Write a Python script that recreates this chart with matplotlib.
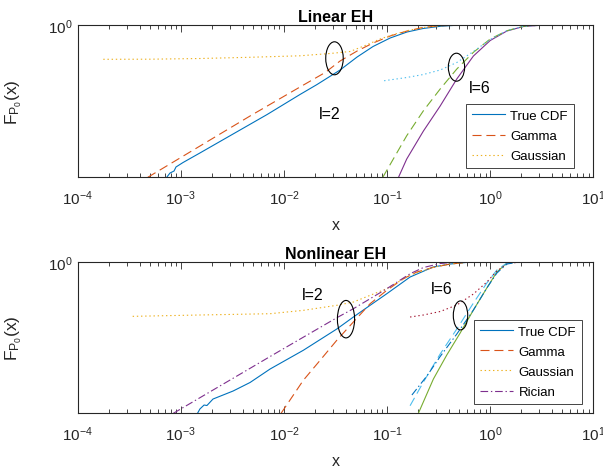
import numpy as np
import matplotlib
matplotlib.use('Agg')
import matplotlib.pyplot as plt
from matplotlib.patches import Ellipse
from matplotlib.ticker import LogLocator, NullLocator

plt.rcParams['font.family'] = ['Liberation Sans', 'DejaVu Sans']
plt.rcParams['mathtext.fontset'] = 'custom'
plt.rcParams['mathtext.rm'] = 'Liberation Sans'
plt.rcParams['mathtext.it'] = 'Liberation Sans:italic'
plt.rcParams['mathtext.bf'] = 'Liberation Sans:bold'
plt.rcParams['mathtext.default'] = 'regular'
plt.rcParams['lines.scale_dashes'] = False

# MATLAB default colour order
c_blue = '#0072BD'
c_orange = '#D95319'
c_yellow = '#EDB120'
c_purple = '#7E2F8E'
c_green = '#77AC30'
c_cyan = '#4DBEEE'
c_red = '#A2142F'

x_ticks = [1e-4, 1e-3, 1e-2, 1e-1, 1e0, 1e1]
x_tick_labels = [r'$10^{-4}$', r'$10^{-3}$', r'$10^{-2}$', r'$10^{-1}$', r'$10^{0}$', r'$10^{1}$']
legend_labels = ['True CDF', 'Gamma', 'Gaussian', 'Rician']

# ---- Linear EH, l=2 ----
lin2_true_x = [7.29e-4, 7.85e-4, 8.59e-4, 8.97e-4, 1.05e-3, 1.53e-3, 3.21e-3, 6.86e-3, 1.43e-2, 2.09e-2,
               3.50e-2, 5.12e-2, 7.31e-2, 0.107, 0.156, 0.223, 0.327, 0.478, 1.0, 10.0]
lin2_true_y = [1.0e-5, 1.38e-5, 1.61e-5, 2.18e-5, 3.06e-5, 6.28e-5, 2.64e-4, 1.15e-3, 5.23e-3, 1.11e-2,
               3.33e-2, 8.90e-2, 0.197, 0.374, 0.589, 0.767, 0.906, 0.985, 1.0, 1.0]
lin2_gamma_x = [4.78e-4, 4.69e-3, 1.43e-2, 2.51e-2, 3.50e-2, 5.12e-2, 7.31e-2, 0.107, 0.156, 0.223, 0.327, 0.511, 10.0]
lin2_gamma_y = [1.0e-5, 1.03e-3, 9.22e-3, 2.76e-2, 6.58e-2, 0.140, 0.256, 0.435, 0.635, 0.828, 0.948, 0.995, 1.0]
lin2_gauss_x = [1.77e-4, 5.02e-4, 1.53e-3, 4.69e-3, 1.43e-2, 2.80e-2, 4.38e-2, 6.12e-2, 8.55e-2, 0.120,
                0.167, 0.234, 0.327, 0.511, 10.0]
lin2_gauss_y = [7.48e-2, 7.54e-2, 7.94e-2, 8.71e-2, 9.75e-2, 0.116, 0.135, 0.212, 0.347, 0.507,
                0.685, 0.840, 0.942, 1.0, 1.0]

# ---- Linear EH, l=6 ----
lin6_true_x = [0.129, 0.155, 0.225, 0.327, 0.474, 0.687, 1.0, 1.45, 2.10, 3.05, 4.76, 10.0]
lin6_true_y = [1.0e-5, 3.99e-5, 3.31e-4, 2.19e-3, 1.69e-2, 9.60e-2, 0.310, 0.635, 0.893, 0.977, 1.0, 1.0]
lin6_gamma_x = [9.08e-2, 0.155, 0.225, 0.327, 0.474, 0.687, 1.0, 1.45, 2.10, 3.05, 10.0]
lin6_gamma_y = [1.0e-5, 2.32e-4, 1.53e-3, 7.92e-3, 3.59e-2, 0.127, 0.347, 0.650, 0.906, 0.99, 1.0]
lin6_gauss_x = [9.35e-2, 0.155, 0.225, 0.327, 0.474, 0.687, 1.0, 1.45, 2.10, 3.05, 4.76, 10.0]
lin6_gauss_y = [1.48e-2, 1.89e-2, 2.37e-2, 3.33e-2, 5.87e-2, 0.135, 0.334, 0.650, 0.906, 0.98, 1.0, 1.0]

# ---- Nonlinear EH, l=2 ----
non2_true_x = [1.45e-3, 1.53e-3, 1.68e-3, 1.79e-3, 2.05e-3, 3.21e-3, 4.69e-3, 7.33e-3, 1.54e-2, 3.25e-2,
               4.71e-2, 6.84e-2, 9.93e-2, 0.167, 0.279, 0.408, 0.597, 1.0]
non2_true_y = [1.0e-5, 1.39e-5, 1.88e-5, 1.81e-5, 2.96e-5, 5.44e-5, 1.04e-4, 2.89e-4, 1.20e-3, 6.03e-3,
               1.50e-2, 3.65e-2, 8.81e-2, 0.313, 0.668, 0.840, 0.955, 1.0]
non2_gamma_x = [9.37e-3, 1.54e-2, 2.24e-2, 3.25e-2, 4.71e-2, 6.84e-2, 9.93e-2, 0.144, 0.194, 0.281, 0.408, 0.593, 1.0]
non2_gamma_y = [1.0e-5, 1.23e-4, 5.60e-4, 2.56e-3, 1.03e-2, 4.12e-2, 0.114, 0.275, 0.457, 0.654, 0.840, 0.955, 1.0]
non2_gauss_x = [3.41e-4, 1.53e-3, 7.33e-3, 1.54e-2, 3.25e-2, 4.71e-2, 6.84e-2, 9.93e-2, 0.167, 0.281, 0.408, 0.593, 1.0]
non2_gauss_y = [1.58e-2, 1.75e-2, 1.93e-2, 2.49e-2, 3.65e-2, 4.69e-2, 7.80e-2, 0.129, 0.364, 0.654, 0.840, 0.955, 1.0]
non2_rician_x = [8.45e-4, 1.06e-3, 2.23e-3, 4.69e-3, 7.33e-3, 1.54e-2, 3.25e-2, 4.71e-2, 6.84e-2, 9.93e-2,
                 0.167, 0.225, 0.327, 0.474, 0.798]
non2_rician_y = [1.0e-5, 1.57e-5, 6.93e-5, 3.05e-4, 7.47e-4, 3.24e-3, 1.42e-2, 2.82e-2, 6.02e-2, 0.129,
                 0.402, 0.644, 0.873, 0.977, 1.0]

# ---- Nonlinear EH, l=6 ----
non6_true_x = [0.201, 0.281, 0.379, 0.511, 0.687, 0.927, 1.16, 1.45, 1.95]
non6_true_y = [1.0e-5, 1.35e-4, 8.37e-4, 4.45e-3, 2.55e-2, 0.136, 0.457, 0.906, 1.0]
non6_gamma_x = [0.167, 0.225, 0.327, 0.474, 0.687, 0.927, 1.16, 1.45, 1.95]
non6_gamma_y = [1.78e-5, 1.08e-4, 9.03e-4, 6.03e-3, 4.34e-2, 0.198, 0.532, 0.906, 1.0]
non6_gauss_x = [0.167, 0.225, 0.327, 0.474, 0.687, 0.927, 1.16, 1.45, 1.95]
non6_gauss_y = [1.50e-2, 1.75e-2, 2.28e-2, 3.73e-2, 8.61e-2, 0.214, 0.493, 0.840, 1.0]
non6_rician_x = [0.174, 0.243, 0.327, 0.474, 0.687, 0.927, 1.16, 1.45, 1.95]
non6_rician_y = [4.02e-5, 1.70e-4, 7.47e-4, 4.12e-3, 2.55e-2, 0.136, 0.424, 0.840, 1.0]

dash = (6.5, 3.5)
dot = (1.0, 2.0)
dashdot = (5.5, 2.0, 1.0, 2.0)
lw = 0.8
axis_col = '#262626'


def style_axes(ax, title):
    ax.set_xscale('log')
    ax.set_yscale('log')
    ax.set_xlim(1e-4, 10)
    ax.set_ylim(1e-5, 1)
    ax.set_xticks(x_ticks)
    ax.set_xticklabels(x_tick_labels)
    ax.xaxis.set_minor_locator(LogLocator(base=10, subs=np.arange(2, 10)))
    ax.set_yticks([1])
    ax.set_yticklabels([r'$10^{0}$'])
    ax.yaxis.set_minor_locator(NullLocator())
    ax.tick_params(which='both', direction='in', top=True, right=True, colors=axis_col, labelsize=11)
    ax.tick_params(axis='x', which='major', length=5, width=0.6, pad=8)
    ax.tick_params(axis='y', which='major', length=5, width=0.6, pad=4)
    ax.tick_params(which='minor', length=3, width=0.6)
    for s in ax.spines.values():
        s.set_color(axis_col)
        s.set_linewidth(0.8)
    ax.set_title(title, fontweight='bold', fontsize=11.5, pad=3)
    ax.set_xlabel('x', fontsize=11.5, color=axis_col)
    ax.set_ylabel(r'$F_{P_0}(x)$', fontsize=12.5, color=axis_col)
    ax.xaxis.set_label_coords(0.5, -0.26)
    ax.yaxis.set_label_coords(-0.105, 0.5)


fig = plt.figure(figsize=(6.03, 4.77), dpi=100)
ax1 = fig.add_axes([0.1289, 0.6262, 0.8551, 0.3193])
ax2 = fig.add_axes([0.1289, 0.1314, 0.8551, 0.3178])

legend_style = dict(loc='lower left', fontsize=9.5, handlelength=2.5, handletextpad=0.4, borderpad=0.45,
                    labelspacing=0.6, borderaxespad=0, fancybox=False, framealpha=1, edgecolor=axis_col)

# Linear EH
h1, = ax1.plot(lin2_true_x, lin2_true_y, color=c_blue, lw=lw)
h2, = ax1.plot(lin2_gamma_x, lin2_gamma_y, color=c_orange, lw=lw, dashes=dash)
h3, = ax1.plot(lin2_gauss_x, lin2_gauss_y, color=c_yellow, lw=lw, dashes=dot)
ax1.plot(lin6_true_x, lin6_true_y, color=c_purple, lw=lw)
ax1.plot(lin6_gamma_x, lin6_gamma_y, color=c_green, lw=lw, dashes=dash)
ax1.plot(lin6_gauss_x, lin6_gauss_y, color=c_cyan, lw=lw, dashes=dot)
style_axes(ax1, 'Linear EH')
leg1 = ax1.legend([h1, h2, h3], legend_labels[:3], bbox_to_anchor=(0.753, 0.059), **legend_style)
leg1.get_frame().set_linewidth(0.6)

# Nonlinear EH
g1, = ax2.plot(non2_true_x, non2_true_y, color=c_blue, lw=lw)
g2, = ax2.plot(non2_gamma_x, non2_gamma_y, color=c_orange, lw=lw, dashes=dash)
g3, = ax2.plot(non2_gauss_x, non2_gauss_y, color=c_yellow, lw=lw, dashes=dot)
g4, = ax2.plot(non2_rician_x, non2_rician_y, color=c_purple, lw=lw, dashes=dashdot)
ax2.plot(non6_true_x, non6_true_y, color=c_green, lw=lw)
ax2.plot(non6_gamma_x, non6_gamma_y, color=c_cyan, lw=lw, dashes=dash)
ax2.plot(non6_gauss_x, non6_gauss_y, color=c_red, lw=lw, dashes=dot)
ax2.plot(non6_rician_x, non6_rician_y, color=c_blue, lw=lw, dashes=dashdot)
style_axes(ax2, 'Nonlinear EH')
leg2 = ax2.legend([g1, g2, g3, g4], legend_labels, bbox_to_anchor=(0.769, 0.061), **legend_style)
leg2.get_frame().set_linewidth(0.6)

# ellipse markers around the curve groups
for cx, cy, w, h in [(0.5547, 0.8757, 0.0290, 0.0692), (0.7570, 0.8570, 0.0270, 0.0587),
                     (0.5738, 0.3288, 0.0285, 0.0785), (0.7637, 0.3367, 0.0239, 0.0608)]:
    fig.add_artist(Ellipse((cx, cy), w, h, transform=fig.transFigure, fill=False, ec='k', lw=0.8))

fig.text(0.547, 0.761, 'l=2', ha='center', va='center', fontsize=11.5)
fig.text(0.796, 0.8155, 'l=6', ha='center', va='center', fontsize=11.5)
fig.text(0.518, 0.3815, 'l=2', ha='center', va='center', fontsize=11.5)
fig.text(0.733, 0.394, 'l=6', ha='center', va='center', fontsize=11.5)

fig.savefig('out.png', dpi=100)
